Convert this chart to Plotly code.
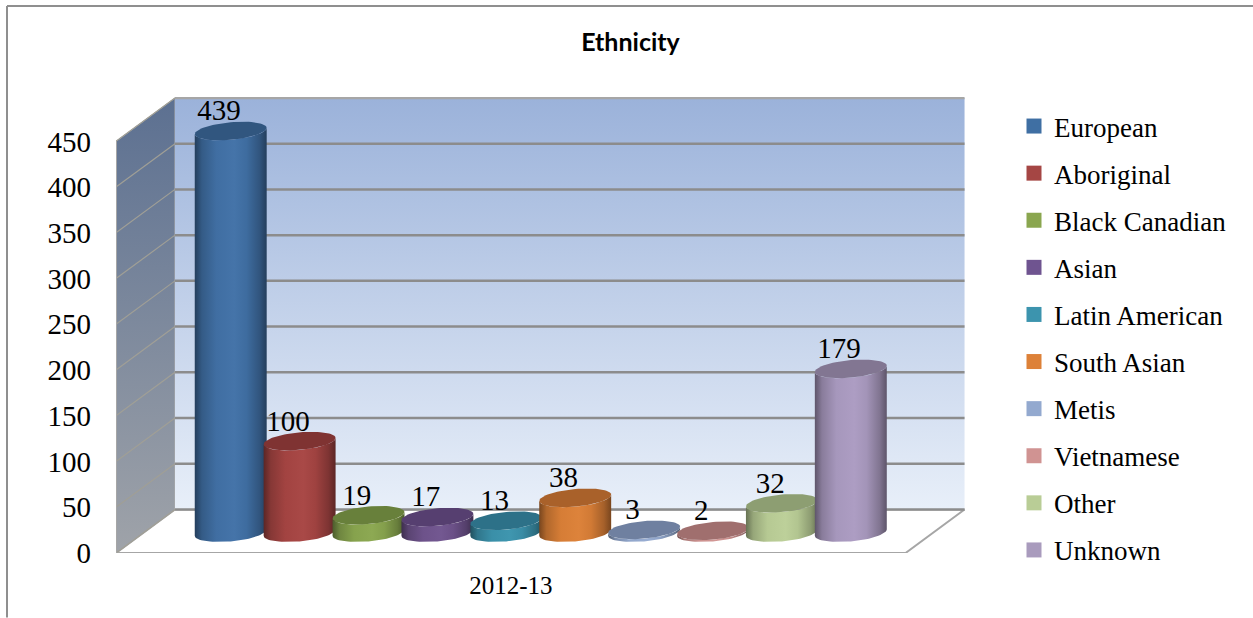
import numpy as np
import plotly.graph_objects as go

TITLE = "Ethnicity"
PERIOD = "2012-13"
categories = ["European", "Aboriginal", "Black Canadian", "Asian", "Latin American",
              "South Asian", "Metis", "Vietnamese", "Other", "Unknown"]
values = [439, 100, 19, 17, 13, 38, 3, 2, 32, 179]
y_ticks = [0, 50, 100, 150, 200, 250, 300, 350, 400, 450]

side_colors = ["#4272A8", "#A84644", "#8BA850", "#71558F", "#3C94AE",
               "#DD8138", "#96ACD2", "#D29593", "#BCD098", "#AC9CC2"]
top_colors = ["#31567F", "#7F3332", "#68803B", "#563F70", "#2D7188",
              "#A9612A", "#6F80A0", "#A06F6E", "#8D9E72", "#827692"]
legend_colors = ["#3F6FA3", "#A54644", "#8AA64F", "#6F5490", "#3C94AE",
                 "#DD8138", "#93A9CF", "#D09392", "#B9CD96", "#A99BBD"]

SERIF = "Liberation Serif"
FLOOR_W = 11.46      # front floor width, in category slots
DX, DY = 0.856, 47.5 # depth offset
FIRST_C = 1.665      # first bar centre
LIFT = 22.3          # base lift of the bars
A, B, K = 0.522, 9.6, 3.4  # ellipse radii and tilt


def shade(hexcol, f):
    r, g, b = [int(hexcol[i:i + 2], 16) for i in (1, 3, 5)]
    if f <= 1:
        c = [v * f for v in (r, g, b)]
    else:
        c = [v + (255 - v) * (f - 1) for v in (r, g, b)]
    return "rgb(%d,%d,%d)" % tuple(c)


fig = go.Figure()


def poly(x, y, **kw):
    fig.add_trace(go.Scatter(x=x, y=y, mode="lines", fill="toself", showlegend=False,
                             hoverinfo="skip", cliponaxis=False, **kw))


# floor
poly([0, FLOOR_W, FLOOR_W + DX, DX, 0], [0, 0, DY, DY, 0], fillcolor="#FFFFFF",
     line=dict(color="#A6A6A6", width=2))
# side wall
poly([0, DX, DX, 0, 0], [0, DY, 450 + DY, 450, 0], line=dict(color="#A6A6A6", width=1),
     fillgradient=dict(type="vertical",
                       colorscale=[[0, "#9FA3A9"], [1, "#5C7091"]]))
# back wall
poly([DX, FLOOR_W + DX, FLOOR_W + DX, DX, DX], [DY, DY, 450 + DY, 450 + DY, DY],
     line=dict(color="rgba(0,0,0,0)", width=0),
     fillgradient=dict(type="vertical",
                       colorscale=[[0, "#E8EFF9"], [1, "#9BB2DA"]]))
# grid lines
for t in y_ticks:
    w = 2.5
    col = "#8C8C8C" if t < 450 else "#A6A6A6"
    fig.add_trace(go.Scatter(x=[DX, FLOOR_W + DX], y=[t + DY, t + DY], mode="lines",
                             line=dict(color=col, width=w), showlegend=False,
                             hoverinfo="skip", cliponaxis=False))
    fig.add_trace(go.Scatter(x=[0, DX], y=[t, t + DY], mode="lines",
                             line=dict(color="#A09F96", width=1.2), showlegend=False,
                             hoverinfo="skip", cliponaxis=False))
fig.add_trace(go.Scatter(x=[0, 0], y=[0, 450], mode="lines",
                         line=dict(color="#A6A6A6", width=2), showlegend=False,
                         hoverinfo="skip", cliponaxis=False))

# cylinders
t_full = np.linspace(0, 2 * np.pi, 73)
t_low = np.linspace(np.pi, 2 * np.pi, 37)
for i, (v, sc, tc) in enumerate(zip(values, side_colors, top_colors)):
    cx = FIRST_C + i
    base = LIFT
    top = LIFT + v
    # body: down the left side, along the front of the base, back over the top
    bx = cx + A * np.cos(t_low)
    by = base + B * np.sin(t_low) + K * np.cos(t_low)
    tx = cx + A * np.cos(t_low[::-1])
    ty = top + B * np.sin(t_low[::-1]) + K * np.cos(t_low[::-1])
    poly(np.r_[bx, tx, bx[0]], np.r_[by, ty, by[0]],
         line=dict(width=0, color="rgba(0,0,0,0)"),
         fillgradient=dict(type="horizontal", colorscale=[
             [0, shade(sc, .55)], [.10, shade(sc, .8)], [.3, shade(sc, .97)],
             [.55, shade(sc, 1.02)], [.72, shade(sc, .95)], [.9, shade(sc, .75)],
             [1, shade(sc, .55)]]))
    # top disc
    poly(cx + A * np.cos(t_full), top + B * np.sin(t_full) + K * np.cos(t_full),
         fillcolor=tc, line=dict(width=0, color=tc))

# data labels
fig.add_trace(go.Scatter(
    x=[FIRST_C + i - 0.17 for i in range(len(values))],
    y=[LIFT + v + 19.5 for v in values],
    mode="text", text=[str(v) for v in values], textposition="middle center",
    textfont=dict(family=SERIF, size=29, color="#000000"),
    showlegend=False, hoverinfo="skip", cliponaxis=False))

# legend entries
for name, col in zip(categories, legend_colors):
    fig.add_trace(go.Scatter(x=[None], y=[None], mode="markers", name=name, legendgroup=name,
                             marker=dict(symbol="square", size=15, color=col)))

fig.update_layout(
    width=1253, height=618, paper_bgcolor="#FFFFFF", plot_bgcolor="rgba(0,0,0,0)",
    margin=dict(l=116, r=287, t=97, b=64.5),
    title=dict(text="<b>" + TITLE + "</b>", x=630.5 / 1253, xanchor="center", y=1 - 42 / 618,
               yanchor="middle", font=dict(family="Lato", size=25, color="#000000")),
    xaxis=dict(range=[0, 12.337], tickvals=[FLOOR_W / 2], ticktext=[PERIOD], showgrid=False,
               zeroline=False, showline=False, ticks="", ticklabelstandoff=15,
               tickfont=dict(family=SERIF, size=25, color="#000000")),
    yaxis=dict(range=[0, 498.5], tickvals=y_ticks, showgrid=False, zeroline=False,
               showline=False, ticks="", ticklabelstandoff=24,
               tickfont=dict(family=SERIF, size=29, color="#000000")),
    legend=dict(x=(1014 - 116) / 850, xanchor="left", y=(553.5 - 102) / 456.5, yanchor="top",
                font=dict(family=SERIF, size=27, color="#000000"), maxheight=600,
                tracegroupgap=9, bgcolor="rgba(0,0,0,0)", borderwidth=0),
    shapes=[
        dict(type="line", xref="paper", yref="paper", x0=(7 - 116) / 850, x1=(1253 - 116) / 850,
             y0=(553.5 - 6) / 456.5, y1=(553.5 - 6) / 456.5, line=dict(color="#8F8F8F", width=2)),
        dict(type="line", xref="paper", yref="paper", x0=(7 - 116) / 850, x1=(7 - 116) / 850,
             y0=(553.5 - 6) / 456.5, y1=(553.5 - 618) / 456.5, line=dict(color="#8F8F8F", width=2)),
    ],
)

fig.write_html("out.html", config=dict(displayModeBar=False),
               post_script="document.body.style.margin='0';")
